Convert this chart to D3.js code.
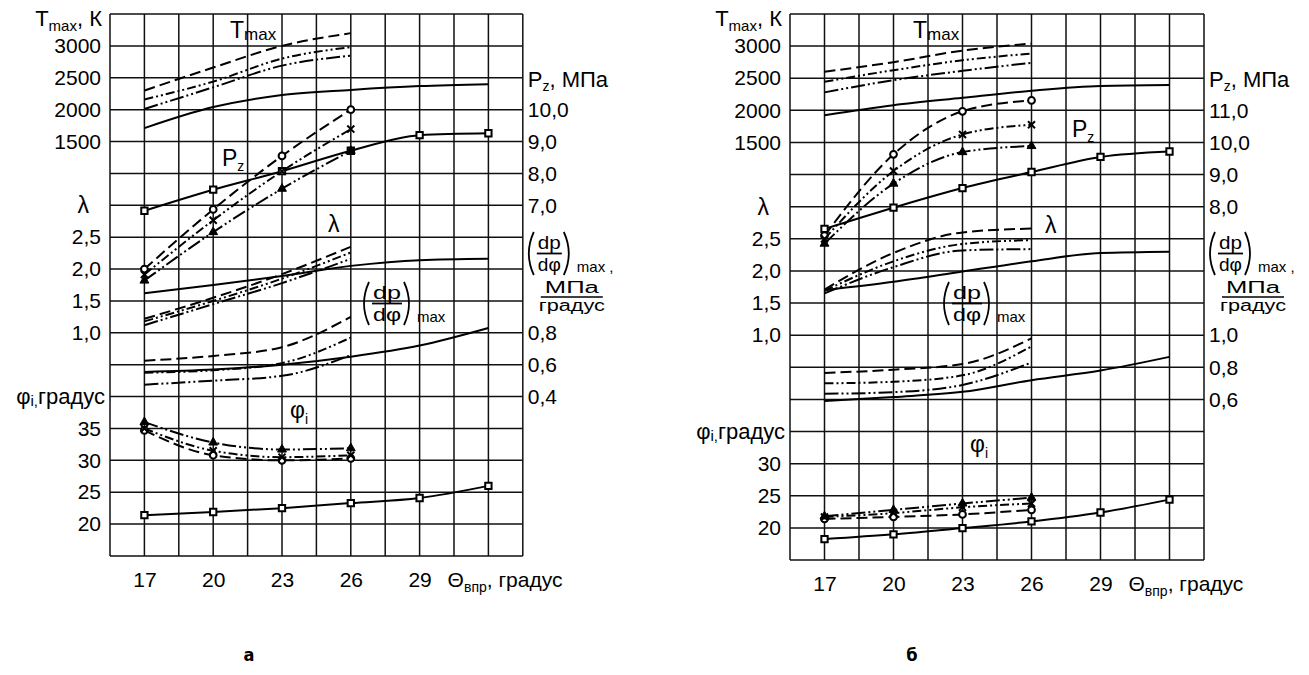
<!DOCTYPE html>
<html><head><meta charset="utf-8">
<script src="https://cdn.jsdelivr.net/npm/d3@7"></script>
<style>
body{margin:0;background:#fff}
svg text{font-family:"Liberation Sans",Arial,sans-serif;fill:#000}
</style>
</head><body>
<svg id="c" width="1309" height="675"></svg>
<script>
// ---------- DATA ----------
const thetaFull = [17, 20, 23, 26, 29, 32];   // base engine (solid, squares)
const thetaShort = [17, 20, 23, 26];          // modified variants
const thetaTicks = [17, 20, 23, 26, 29];
// series order: [solid/square, dashed/circle, dash-dot-dot/cross, dash-dot-dot/triangle]
// Panel а
const aTmax   = [[1710, 2040, 2230, 2310, 2370, 2400], [2300, 2660, 3000, 3200], [2160, 2440, 2800, 2980], [2010, 2350, 2690, 2845]];
const aPz     = [[6.83, 7.49, 8.07, 8.71, 9.20, 9.26], [5.00, 6.87, 8.55, 10.0], [4.83, 6.53, 8.07, 9.39], [4.64, 6.16, 7.52, 8.71]];
const aLambda = [[1.62, 1.75, 1.89, 2.05, 2.14, 2.16], [1.22, 1.55, 1.92, 2.35], [1.18, 1.50, 1.85, 2.26], [1.12, 1.45, 1.78, 2.16]];
const aDpdphi = [[0.555, 0.57, 0.60, 0.65, 0.72, 0.83], [0.625, 0.655, 0.71, 0.90], [0.55, 0.565, 0.61, 0.77], [0.475, 0.50, 0.53, 0.66]];
const aPhi    = [[21.4, 21.9, 22.5, 23.3, 24.1, 26.0], [34.7, 30.8, 30.0, 30.3], [35.0, 31.5, 30.5, 30.8], [36.0, 32.8, 31.7, 31.9]];
// Panel б
const bTmax   = [[1925, 2080, 2195, 2305, 2380, 2395], [2600, 2750, 2930, 3040], [2445, 2625, 2780, 2885], [2280, 2470, 2615, 2740]];
const bPz     = [[7.31, 7.97, 8.58, 9.08, 9.55, 9.72], [7.10, 9.63, 10.97, 11.31], [7.00, 9.11, 10.25, 10.55], [6.85, 8.72, 9.70, 9.89]];
const bLambda = [[1.70, 1.83, 1.99, 2.15, 2.28, 2.30], [1.71, 2.28, 2.60, 2.66], [1.69, 2.15, 2.42, 2.48], [1.65, 2.06, 2.32, 2.34]];
const bDpdphi = [[0.59, 0.615, 0.647, 0.72, 0.78, 0.865], [0.765, 0.785, 0.82, 0.98], [0.70, 0.71, 0.75, 0.93], [0.635, 0.645, 0.69, 0.83]];
const bPhi    = [[18.25, 19.0, 19.97, 21.0, 22.4, 24.4], [21.4, 21.7, 22.1, 22.8], [21.7, 22.3, 23.2, 23.8], [21.8, 22.8, 23.8, 24.7]];
// Tick labels
const tmaxTicks = [3000, 2500, 2000, 1500];
const lambdaTicks = [2.5, 2.0, 1.5, 1.0];
const aPhiTicks = [35, 30, 25, 20];
const bPhiTicks = [30, 25, 20];
const aPzTicks = [10, 9, 8, 7];
const bPzTicks = [11, 10, 9, 8];
const aDpTicks = [0.8, 0.6, 0.4];
const bDpTicks = [1.0, 0.8, 0.6];

// ---------- DRAW ----------
const svg = d3.select("#c");
const FONT = '"Liberation Sans",Arial,sans-serif';
const fmt1 = v => d3.format(".1f")(v).replace(".", ",");
const fmt0 = v => String(v);
const dashes = [null, "11,5", "9,3,2,3,2,3", "14,3,2,3,2,3"];
const symbolTypes = [d3.symbolSquare, d3.symbolCircle, d3.symbolTimes, d3.symbolTriangle];
const symbolSizes = [40, 36, 34, 34];

function txt(g, x, y, parts, opts = {}) {
  const t = g.append("text").attr("x", x).attr("y", y)
    .attr("font-size", opts.fs || 20).attr("text-anchor", opts.anchor || "start");
  let shift = 0;
  parts.forEach(p => {
    const s = typeof p === "string" ? { t: p } : p;
    const target = s.sub ? (opts.subDy || 5) : 0;
    t.append("tspan").attr("dy", target - shift)
      .attr("font-size", s.sub ? (opts.subFs || 13) : null).text(s.t);
    shift = target;
  });
  return t;
}

function paren(g, x, y0, y1, open) {
  const m = (y0 + y1) / 2;
  const d = open ? `M${x + 6},${y0} Q${x - 4},${m} ${x + 6},${y1}`
                 : `M${x},${y0} Q${x + 10},${m} ${x},${y1}`;
  g.append("path").attr("d", d).attr("fill", "none").attr("stroke", "#000").attr("stroke-width", 1.8);
}

function dpLabel(g, x0, yTop, w, comma) {
  const h = 43, fs = 19;
  paren(g, x0, yTop, yTop + h, true);
  const cx = x0 + 9 + w / 2;
  g.append("text").attr("x", cx).attr("y", yTop + 17).attr("font-size", fs).attr("text-anchor", "middle")
    .attr("textLength", w - 2).attr("lengthAdjust", "spacingAndGlyphs").text("dp");
  g.append("line").attr("x1", x0 + 9).attr("x2", x0 + 9 + w).attr("y1", yTop + 21.5).attr("y2", yTop + 21.5)
    .attr("stroke", "#000").attr("stroke-width", 1.8);
  g.append("text").attr("x", cx).attr("y", yTop + 39).attr("font-size", fs).attr("text-anchor", "middle")
    .attr("textLength", w - 2).attr("lengthAdjust", "spacingAndGlyphs").text("dφ");
  paren(g, x0 + 11 + w, yTop, yTop + h, false);
  g.append("text").attr("x", x0 + 24 + w).attr("y", yTop + 40).attr("font-size", 15).text("max" + (comma ? " ," : ""));
}

const panels = [
  { letter: "а", left: 110, right: 522.8, top: 14, bottom: 556, pzTop: 13, dpTop: 2.8,
    tmax: aTmax, pz: aPz, lam: aLambda, dp: aDpdphi, phi: aPhi,
    phiTicks: aPhiTicks, pzTicks: aPzTicks, dpTicks: aDpTicks, phiLabelRow: 40,
    inTmax: 230, inPz: [222, 166], inLam: [328, 232], inDp: 363, inPhi: [290, 418],
    letterX: 249, xLabelY: 587 },
  { letter: "б", left: 790, right: 1204, top: 14, bottom: 560, pzTop: 14, dpTop: 3.0,
    tmax: bTmax, pz: bPz, lam: bLambda, dp: bDpdphi, phi: bPhi,
    phiTicks: bPhiTicks, pzTicks: bPzTicks, dpTicks: bDpTicks, phiLabelRow: 35,
    inTmax: 913, inPz: [1072, 137], inLam: [1045, 233], inDp: 943, inPhi: [970, 452],
    letterX: 912, xLabelY: 591 }
];

panels.forEach(P => {
  const g = svg.append("g");
  const x = d3.scaleLinear().domain([15.5, 33.5]).range([P.left, P.right]);
  const yT = d3.scaleLinear().domain([3500, -5000]).range([P.top, P.bottom]);
  const yPz = d3.scaleLinear().domain([P.pzTop, P.pzTop - 17]).range([P.top, P.bottom]);
  const yL = d3.scaleLinear().domain([6.0, -2.5]).range([P.top, P.bottom]);
  const yD = d3.scaleLinear().domain([P.dpTop, P.dpTop - 3.4]).range([P.top, P.bottom]);
  const yPhi = d3.scaleLinear().domain([100, 15]).range([P.top, P.bottom]);

  // grid
  g.append("g").selectAll("line").data(d3.range(15.5, 33.51, 1.5)).join("line")
    .attr("x1", d => x(d)).attr("x2", d => x(d)).attr("y1", P.top).attr("y2", P.bottom)
    .attr("stroke", "#111").attr("stroke-width", 1.5);
  g.append("g").selectAll("line").data(d3.range(3500, -5001, -500)).join("line")
    .attr("y1", d => yT(d)).attr("y2", d => yT(d)).attr("x1", P.left).attr("x2", P.right)
    .attr("stroke", "#111").attr("stroke-width", 1.5);

  // axes
  function axis(gen, scale, ticks, fmt, tx, pad) {
    const a = g.append("g").attr("transform", `translate(${tx},0)`)
      .call(gen(scale).tickValues(ticks).tickSize(0).tickPadding(pad).tickFormat(fmt));
    a.select(".domain").remove();
    a.attr("font-size", 21).attr("font-family", FONT);
    a.selectAll("text").attr("font-size", 21);
    return a;
  }
  axis(d3.axisLeft, yT, tmaxTicks, fmt0, P.left, 9);
  axis(d3.axisLeft, yL, lambdaTicks, fmt1, P.left, 9);
  axis(d3.axisLeft, yPhi, P.phiTicks, fmt0, P.left, 9);
  axis(d3.axisRight, yPz, P.pzTicks, fmt1, P.right, 5);
  axis(d3.axisRight, yD, P.dpTicks, fmt1, P.right, 5);
  const xa = g.append("g").attr("transform", `translate(0,${P.bottom})`)
    .call(d3.axisBottom(x).tickValues(thetaTicks).tickSize(0).tickPadding(P.xLabelY - P.bottom - 15).tickFormat(fmt0));
  xa.select(".domain").remove();
  xa.attr("font-size", 21).attr("font-family", FONT);
  xa.selectAll("text").attr("font-size", 21);

  // series
  function series(arr, y, markers) {
    arr.forEach((vals, i) => {
      const th = vals.length === thetaFull.length ? thetaFull : thetaShort;
      g.append("path").datum(vals)
        .attr("d", d3.line().x((d, j) => x(th[j])).y(d => y(d)).curve(d3.curveMonotoneX))
        .attr("fill", "none").attr("stroke", "#000").attr("stroke-width", 2)
        .attr("stroke-dasharray", dashes[i]);
    });
    if (markers) {
      arr.forEach((vals, i) => {
        const th = vals.length === thetaFull.length ? thetaFull : thetaShort;
        g.append("g").selectAll("path").data(vals).join("path")
          .attr("transform", (d, j) => `translate(${x(th[j])},${y(d)})`)
          .attr("d", d3.symbol(symbolTypes[i], symbolSizes[i]))
          .attr("fill", i === 3 ? "#000" : (i === 2 ? "none" : "#fff"))
          .attr("stroke", "#000").attr("stroke-width", i === 3 ? 1 : 2);
      });
    }
  }
  series(P.tmax, yT, false);
  series(P.pz, yPz, true);
  series(P.lam, yL, false);
  series(P.dp, yD, false);
  series(P.phi, yPhi, true);

  // axis titles
  txt(g, P.left - 8, 26, ["T", { t: "max", sub: true }, ", К"], { fs: 22, subFs: 15, subDy: 5 }).attr("text-anchor", "end");
  g.append("text").attr("x", P.left - 21).attr("y", yT(500) + 8).attr("font-size", 23).attr("text-anchor", "end").text("λ");
  txt(g, P.left - 5, yPhi(P.phiLabelRow) + 7, ["φ", { t: "i,", sub: true }, "градус"], { fs: 22, subFs: 15, subDy: 2 }).attr("text-anchor", "end");
  txt(g, P.right + 5, 87, ["P", { t: "z", sub: true }, ", МПа"], { fs: 22, subFs: 14, subDy: 4 });
  dpLabel(g, P.right + 5, 232, 25, true);
  const fx = P.right + 49;
  g.append("text").attr("x", fx).attr("y", 293).attr("font-size", 16).attr("text-anchor", "middle")
    .attr("textLength", 54).attr("lengthAdjust", "spacingAndGlyphs").text("МПа");
  g.append("line").attr("x1", fx - 31).attr("x2", fx + 31).attr("y1", 297).attr("y2", 297).attr("stroke", "#000").attr("stroke-width", 1.5);
  g.append("text").attr("x", fx).attr("y", 310.5).attr("font-size", 16).attr("text-anchor", "middle")
    .attr("textLength", 66).attr("lengthAdjust", "spacingAndGlyphs").text("градус");

  // x title
  txt(g, x(29) + 28, P.xLabelY, ["Θ", { t: "впр", sub: true }, ", градус"], { fs: 21, subFs: 14, subDy: 5 });

  // curve labels
  txt(g, P.inTmax, 38, ["T", { t: "max", sub: true }], { fs: 23, subFs: 17, subDy: 2 });
  txt(g, P.inPz[0], P.inPz[1], ["P", { t: "z", sub: true }], { fs: 23, subFs: 14, subDy: 5 });
  g.append("text").attr("x", P.inLam[0]).attr("y", P.inLam[1]).attr("font-size", 23).text("λ");
  dpLabel(g, P.inDp, 282, 30, false);
  txt(g, P.inPhi[0], P.inPhi[1], ["φ", { t: "i", sub: true }], { fs: 23, subFs: 14, subDy: 6 });

  // panel letter
  g.append("text").attr("x", P.letterX).attr("y", 661).attr("font-size", 18).attr("font-weight", "bold")
    .attr("text-anchor", "middle").style("font-family", '"Liberation Sans Narrow","DejaVu Sans Condensed",sans-serif').text(P.letter);
});
</script>
</body></html>
